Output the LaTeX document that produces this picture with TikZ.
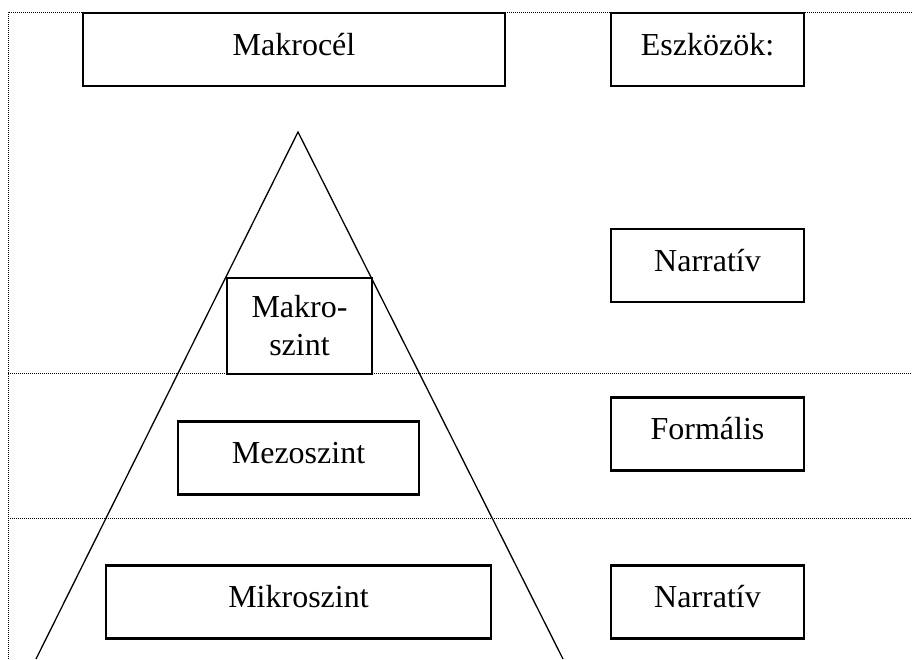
\documentclass[tikz,border=0pt]{standalone}
\usepackage{fontspec}
\setmainfont{Liberation Serif}
\tikzset{
    levelbox/.style={draw, line width=2.3pt, fill=white, rectangle, inner sep=0pt,
        minimum height=73pt, text height=22pt, text depth=11pt,
        font=\fontsize{32}{38}\selectfont},
    gridline/.style={line width=1pt, dash pattern=on 1pt off 1pt}
}
\begin{document}
\begin{tikzpicture}[x=1pt,y=-1pt]
    \useasboundingbox (0,0) rectangle (912,659);
    % dotted frame
    \coordinate (tl) at (8,12);
    \coordinate (tr) at (912,12);
    \coordinate (bl) at (8,659);
    \coordinate (ml) at (8,373);
    \coordinate (mr) at (912,373);
    \coordinate (ll) at (8,518);
    \coordinate (lr) at (912,518);
    \draw[gridline] (bl) -- (tl) -- (tr);
    \draw[gridline] (ml) -- (mr);
    \draw[gridline] (ll) -- (lr);
    % pyramid
    \coordinate (apex) at (298,132);
    \coordinate (footl) at (36,659);
    \coordinate (footr) at (563,659);
    \draw[line width=1.3pt] (footl) -- (apex) -- (footr);
    % boxes
    \node[levelbox, minimum width=422pt] (makrocel) at (294,49.5) {Makrocél};
    \node[levelbox, minimum width=193pt] (eszkozok) at (707.5,49.5) {Eszközök:};
    \node[levelbox, minimum width=193pt] (narrativA) at (707.5,265.5) {Narratív};
    \node[levelbox, minimum width=193pt] (formalis) at (707.5,434) {Formális};
    \node[levelbox, minimum width=193pt] (narrativB) at (707.5,602) {Narratív};
    \node[levelbox, minimum width=145pt, minimum height=96pt, text height=60pt,
        text depth=2pt, align=center] (makro) at (299.5,326) {Makro-\\szint};
    \node[levelbox, minimum width=241pt] (mezo) at (298.5,458) {Mezoszint};
    \node[levelbox, minimum width=385pt] (mikro) at (298.5,602) {Mikroszint};
\end{tikzpicture}
\end{document}
